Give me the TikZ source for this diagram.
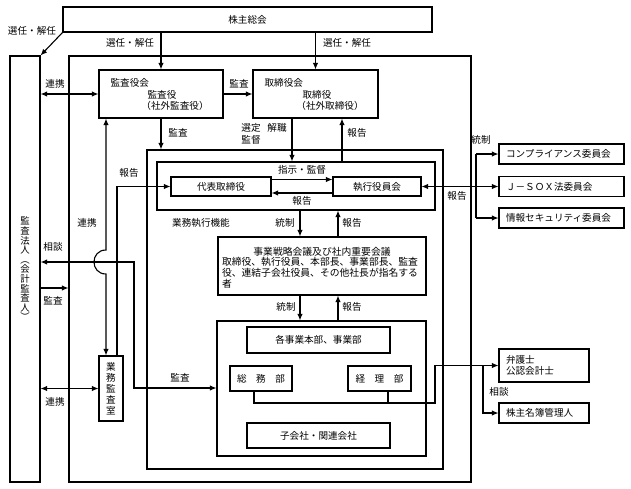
\documentclass[tikz,border=0pt]{standalone}
\usepackage{fontspec}
\setmainfont{Noto Sans CJK JP}
\usetikzlibrary{arrows.meta}
\begin{document}
\begin{tikzpicture}[x=1pt,y=-1pt,
  font=\fontsize{9.6}{11}\selectfont,
  line width=1.1pt,
  >={Latex[length=6.5pt,width=5.5pt]},
  box/.style={draw, rectangle, inner sep=0pt},
  lbl/.style={inner sep=0pt},
  lbox/.style={draw, rectangle, inner xsep=7pt, inner ysep=0pt, align=left}
]
\useasboundingbox (0,0) rectangle (631,488);

% frames
\node[box, minimum width=402pt, minimum height=426pt] (outer) at (270,269) {};
\node[box, minimum width=296pt, minimum height=319pt] (mid) at (295,309.5) {};
\node[box, minimum width=278pt, minimum height=48pt] (gyo) at (296,186) {};
\node[box, minimum width=209pt, minimum height=135pt] (jig) at (321.5,388.5) {};

% boxes
\node[box, minimum width=369pt, minimum height=25pt] (kabu) at (247.5,19.5) {株主総会};
\node[box, minimum width=30pt, minimum height=426pt, align=center, font=\fontsize{9.4}{9.6}\selectfont] (hojin) at (25,269) {監\\査\\法\\人\\︵\\会\\計\\監\\査\\人\\︶};

\node[box, minimum width=124pt, minimum height=48pt] (ksk) at (161,94) {};
\node[lbl, anchor=west] (ksk1) at (110,83) {監査役会};
\node[lbl] (ksk2) at (162,94.5) {監査役};
\node[lbl] (ksk3) at (175,106) {（社外監査役）};

\node[box, minimum width=125pt, minimum height=48pt] (trk) at (315.5,94) {};
\node[lbl, anchor=west] (trk1) at (264,83) {取締役会};
\node[lbl] (trk2) at (317,94.5) {取締役};
\node[lbl] (trk3) at (330,106) {（社外取締役）};

\node[box, minimum width=100pt, minimum height=19pt] (dai) at (221,186.5) {代表取締役};
\node[box, minimum width=88pt, minimum height=19pt] (shk) at (377,186.5) {執行役員会};

\node[box, minimum width=208pt, minimum height=58pt] (sen) at (322,266) {};
\node[lbl, text width=200pt, align=left, font=\fontsize{9.8}{10.8}\selectfont] (sent) at (322,267.5) {\makebox[200pt]{事業戦略会議及び社内重要会議}\\取締役、執行役員、本部長、事業部長、監査\\役、連結子会社役員、その他社長が指名する\\者};

\node[box, minimum width=143pt, minimum height=26pt] (kak) at (318.5,340) {各事業本部、事業部};
\node[box, minimum width=62pt, minimum height=25pt] (som) at (261,378.5) {総　務　部};
\node[box, minimum width=63pt, minimum height=25pt] (kei) at (379.5,378.5) {経　理　部};
\node[box, minimum width=143pt, minimum height=25pt] (kog) at (318.5,435.5) {子会社・関連会社};
\node[box, minimum width=24pt, minimum height=65pt, align=center, font=\fontsize{9.6}{11}\selectfont] (shitsu) at (111,388.5) {業\\務\\監\\査\\室};

\node[lbox, text width=111pt, minimum height=20pt] (comp) at (561.5,154) {コンプライアンス委員会};
\node[lbox, text width=111pt, minimum height=20pt] (jsox) at (561.5,186.5) {Ｊ－ＳＯＸ法委員会};
\node[lbox, text width=111pt, minimum height=20pt] (joho) at (561.5,218) {情報セキュリティ委員会};
\node[lbox, text width=76pt, minimum height=33pt] (ben) at (544,365.5) {弁護士\\公認会計士};
\node[lbox, text width=76pt, minimum height=20pt] (mei) at (544,413) {株主名簿管理人};

% connectors
\draw[->] (kabu.south west) -- (hojin.north east);
\draw[->] (ksk.north |- kabu.south) -- (ksk.north);
\draw[->] (trk.north |- kabu.south) -- (trk.north);
\draw[<->] (hojin.east |- ksk.west) -- (ksk.west);
\draw[->] (ksk.east) -- (trk.west);
\draw[->] (ksk.south) -- (ksk.south |- mid.north);
\draw[->] (trk.south -| 292,0) -- (gyo.north -| 292,0);
\draw[->] (gyo.north -| 342,0) -- (trk.south -| 342,0);
\draw[->] (dai.east |- 0,179.5) -- (shk.west |- 0,179.5);
\draw[->] (shk.west |- 0,193) -- (dai.east |- 0,193);
\draw[->] (gyo.south -| 300,0) -- (sen.north -| 300,0);
\draw[->] (sen.north -| 338,0) -- (gyo.south -| 338,0);
\draw[->] (sen.south -| 300,0) -- (jig.north -| 300,0);
\draw[->] (jig.north -| 338,0) -- (sen.south -| 338,0);
\draw[->] (shitsu.north -| 117,0) |- (dai.west);
\draw[<->] (ksk.south -| 106,0) -- (106,250) .. controls (90,250) and (90,274) .. (106,274) -- (shitsu.north -| 106,0);
\draw[<->] (hojin.east |- 0,262) -| (134,388) -- (jig.west |- 0,388);
\draw[->] (hojin.east |- 0,288) -- (outer.west |- 0,288);
\draw[<->] (hojin.east |- shitsu.west) -- (shitsu.west);
\draw[<->] (shk.east) -- (jsox.west);
\coordinate (br) at (476,186.5);
\draw (br |- comp.west) -- (br |- joho.west);
\draw[->] (br |- comp.west) -- (comp.west);
\draw[->] (br |- joho.west) -- (joho.west);
\draw[->] (som.south -| 254,0) |- (435,403) |- (ben.west);
\draw (kei.south -| 388,0) -- (388,403);
\coordinate (br2) at (483,365.5);
\draw[->] (br2) |- (mei.west);

% labels
\node[lbl] (l1) at (32,31) {選任・解任};
\node[lbl] (l2) at (130,43) {選任・解任};
\node[lbl] (l3) at (347,43) {選任・解任};
\node[lbl] (l4) at (55,84) {連携};
\node[lbl] (l5) at (239,84) {監査};
\node[lbl] (l6) at (178,133) {監査};
\node[lbl] (l7) at (251,128) {選定};
\node[lbl] (l8) at (277,128) {解職};
\node[lbl] (l9) at (251,140) {監督};
\node[lbl] (l10) at (357,133) {報告};
\node[lbl] (l11) at (129,173) {報告};
\node[lbl] (l12) at (302,170) {指示・監督};
\node[lbl] (l13) at (302,201) {報告};
\node[lbl] (l14) at (201,223) {業務執行機能};
\node[lbl] (l15) at (285,223) {統制};
\node[lbl] (l16) at (352,223) {報告};
\node[lbl] (l17) at (87,223) {連携};
\node[lbl] (l18) at (53,247) {相談};
\node[lbl] (l19) at (53,301) {監査};
\node[lbl] (l20) at (55,402) {連携};
\node[lbl] (l21) at (180,378) {監査};
\node[lbl] (l22) at (286,307) {統制};
\node[lbl] (l23) at (352,307) {報告};
\node[lbl] (l24) at (481,140) {統制};
\node[lbl] (l25) at (457,196) {報告};
\node[lbl] (l26) at (499,392) {相談};
\end{tikzpicture}
\end{document}
